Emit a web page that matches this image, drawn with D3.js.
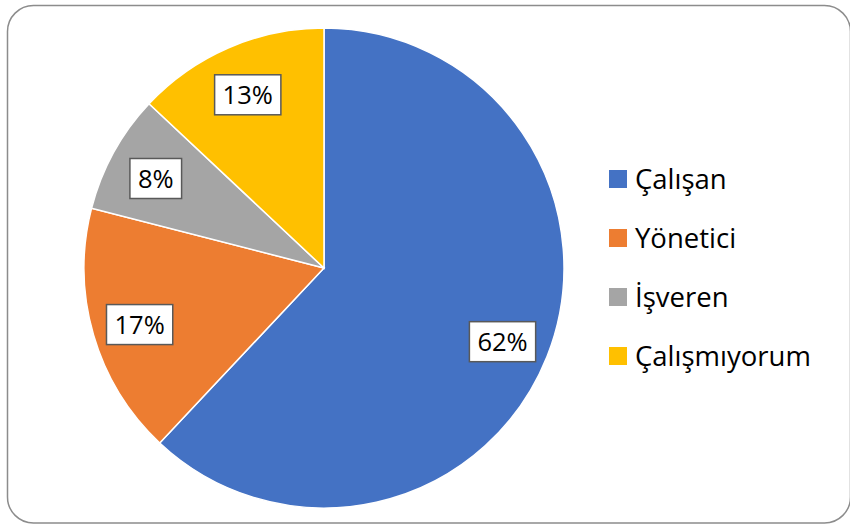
<!DOCTYPE html>
<html>
<head>
<meta charset="utf-8">
<script src="https://cdn.jsdelivr.net/npm/d3@7.9.0/dist/d3.min.js"></script>
<style>
  body { margin: 0; background: #fff; }
  svg { display: block; font-family: "Open Sans", Lato, sans-serif; }
</style>
</head>
<body>
<svg id="chart" width="850" height="525"></svg>
<script>
const categories = ['Çalışan', 'Yönetici', 'İşveren', 'Çalışmıyorum'];
const values = [62, 17, 8, 13];
const labels = ['62%', '17%', '8%', '13%'];
const colors = ['#4472C4', '#ED7D31', '#A5A5A5', '#FFC000'];

const width = 850;
const height = 525;
const cx = 324, cy = 268, radius = 240;

const svg = d3.select('#chart');

// outer frame
svg.append('rect')
  .attr('x', 7.5).attr('y', 5.5)
  .attr('width', 843).attr('height', 517.5)
  .attr('rx', 26).attr('ry', 26)
  .attr('fill', '#fff')
  .attr('stroke', '#8c8c8c')
  .attr('stroke-width', 1.5);

const data = categories.map((c, i) => ({ name: c, value: values[i], label: labels[i], color: colors[i] }));

const pie = d3.pie().value(d => d.value).sort(null);
const arc = d3.arc().innerRadius(0).outerRadius(radius);
const labelArc = d3.arc().innerRadius(radius * 0.8).outerRadius(radius * 0.8);

const g = svg.append('g').attr('transform', `translate(${cx},${cy})`);
const arcs = pie(data);

g.selectAll('path')
  .data(arcs)
  .join('path')
  .attr('d', arc)
  .attr('fill', d => d.data.color)
  .attr('stroke', '#fff')
  .attr('stroke-width', 1.5);

// data labels in boxes
const lab = g.selectAll('g.lab')
  .data(arcs)
  .join('g')
  .attr('class', 'lab')
  .attr('transform', d => {
    const [x, y] = labelArc.centroid(d);
    return `translate(${x},${y + 3})`;
  });

lab.append('text')
  .attr('text-anchor', 'middle')
  .attr('y', 9)
  .attr('font-size', 25.5)
  .attr('fill', '#000')
  .text(d => d.data.label);

lab.each(function () {
  const t = d3.select(this).select('text');
  const b = t.node().getBBox();
  const padX = 8;
  d3.select(this).insert('rect', 'text')
    .attr('x', -b.width / 2 - padX)
    .attr('y', -20)
    .attr('width', b.width + padX * 2)
    .attr('height', 40)
    .attr('fill', '#fff')
    .attr('stroke', '#595959')
    .attr('stroke-width', 1.5);
});

// legend
const legend = svg.append('g').attr('transform', 'translate(609, 179)');
const item = legend.selectAll('g')
  .data(data)
  .join('g')
  .attr('transform', (d, i) => `translate(0, ${i * 59})`);

item.append('rect')
  .attr('x', 0).attr('y', -9)
  .attr('width', 18).attr('height', 18)
  .attr('fill', d => d.color);

item.append('text')
  .attr('x', 26)
  .attr('y', 10)
  .attr('font-size', 27.5)
  .attr('fill', '#000')
  .text(d => d.name);
</script>
</body>
</html>
